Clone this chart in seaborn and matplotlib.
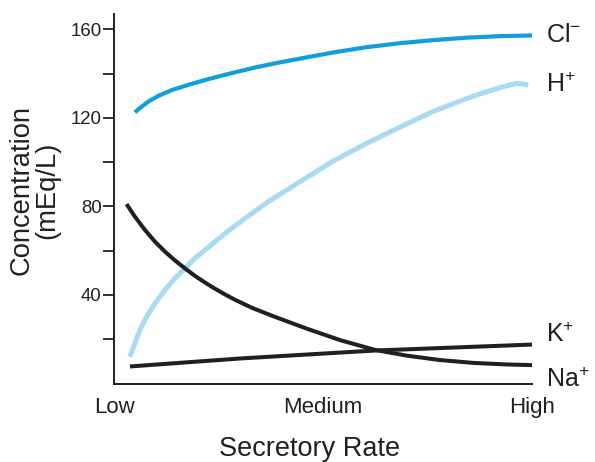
import numpy as np
import pandas as pd
import seaborn as sns
import matplotlib.pyplot as plt

# secretory rate runs 0 (Low) .. 1 (High)
cl_x = [0.050, 0.066, 0.082, 0.106, 0.138, 0.178, 0.226, 0.282, 0.337, 0.385,
        0.441, 0.524, 0.604, 0.684, 0.764, 0.844, 0.925, 1.0]
cl_y = [122.6, 125.1, 127.4, 130.0, 132.6, 135.0, 137.6, 140.3, 142.8, 144.7,
        146.7, 149.6, 152.0, 153.8, 155.2, 156.3, 157.0, 157.3]

h_x = [0.038, 0.050, 0.062, 0.078, 0.098, 0.122, 0.146, 0.170, 0.194, 0.218,
       0.242, 0.266, 0.289, 0.325, 0.366, 0.445, 0.524, 0.605, 0.684, 0.764,
       0.844, 0.884, 0.925, 0.963, 0.991]
h_y = [12.1, 18.2, 24.2, 30.2, 36.2, 42.3, 47.6, 52.1, 56.6, 60.4,
       64.1, 67.9, 71.2, 76.2, 81.8, 91.2, 100.5, 108.6, 115.9, 123.0,
       128.8, 131.4, 133.8, 135.7, 134.9]

na_x = [0.030, 0.050, 0.074, 0.098, 0.122, 0.146, 0.170, 0.194, 0.218, 0.242,
        0.266, 0.290, 0.330, 0.381, 0.461, 0.541, 0.624, 0.700, 0.780, 0.860,
        0.940, 1.0]
na_y = [81.1, 75.4, 69.4, 64.1, 59.6, 55.6, 52.0, 48.6, 45.6, 42.8,
        40.2, 37.8, 34.2, 30.4, 24.8, 19.6, 15.2, 12.6, 10.6, 9.3,
        8.6, 8.3]

k_x = [0.038, 0.301, 0.507, 0.624, 1.0]
k_y = [7.7, 11.3, 13.6, 14.9, 17.6]

rate_labels = ['Low', 'Medium', 'High']
ion_labels = [r'Cl$^{-}$', r'H$^{+}$', r'K$^{+}$', r'Na$^{+}$']

sns.set_style('white')
plt.rcParams['font.family'] = ['Liberation Sans', 'DejaVu Sans']
plt.rcParams['mathtext.fontset'] = 'custom'
plt.rcParams['mathtext.rm'] = 'Liberation Sans'
plt.rcParams['mathtext.it'] = 'Liberation Sans'

fig = plt.figure(figsize=(5.95, 4.62), dpi=100)
ax = fig.add_axes([114 / 595, 1 - 383.5 / 462, 418 / 595, 369.5 / 462])

black = '#231f20'
line_kw = dict(ax=ax, solid_capstyle='butt', solid_joinstyle='round')
sns.lineplot(x=cl_x, y=cl_y, color='#109fdc', lw=3.0, **line_kw)
sns.lineplot(x=h_x, y=h_y, color='#a9daf3', lw=3.6, **line_kw)
sns.lineplot(x=na_x, y=na_y, color=black, lw=2.9, **line_kw)
sns.lineplot(x=k_x, y=k_y, color=black, lw=2.9, **line_kw)

ax.set_xlim(0, 1)
ax.set_ylim(0, 167)

ax.set_xticks([0, 0.5, 1])
ax.set_xticklabels(rate_labels, fontsize=16, color=black)
ax.tick_params(axis='x', length=0, pad=10)

ax.set_yticks([20, 40, 60, 80, 100, 120, 140, 160])
ax.set_yticklabels(['', '40', '', '80', '', '120', '', '160'], fontsize=13.4, color=black)
ax.tick_params(axis='y', left=True, length=8, width=1.3, color=black, pad=1)

for s in ['top', 'right']:
    ax.spines[s].set_visible(False)
for s in ['left', 'bottom']:
    ax.spines[s].set_color(black)
    ax.spines[s].set_linewidth(1.4)

ax.set_xlabel('Secretory Rate', fontsize=19.5, color=black)
ax.xaxis.set_label_coords(0.469, -0.142)
ax.set_ylabel('Concentration\n(mEq/L)', fontsize=19.7, color=black, linespacing=1.0)
ax.yaxis.set_label_coords(-0.128, 0.524)

# ion labels at the right end of each curve
ends = [(cl_y[-1], ion_labels[0]), (h_y[-1] + 0.3, ion_labels[1]),
        (k_y[-1] + 4.5, ion_labels[2]), (na_y[-1] - 6.5, ion_labels[3])]
for yv, lab in ends:
    ax.text(1.033, yv, lab, fontsize=18, color=black, va='center', ha='left',
            clip_on=False)

fig.savefig('out.png', dpi=100)
